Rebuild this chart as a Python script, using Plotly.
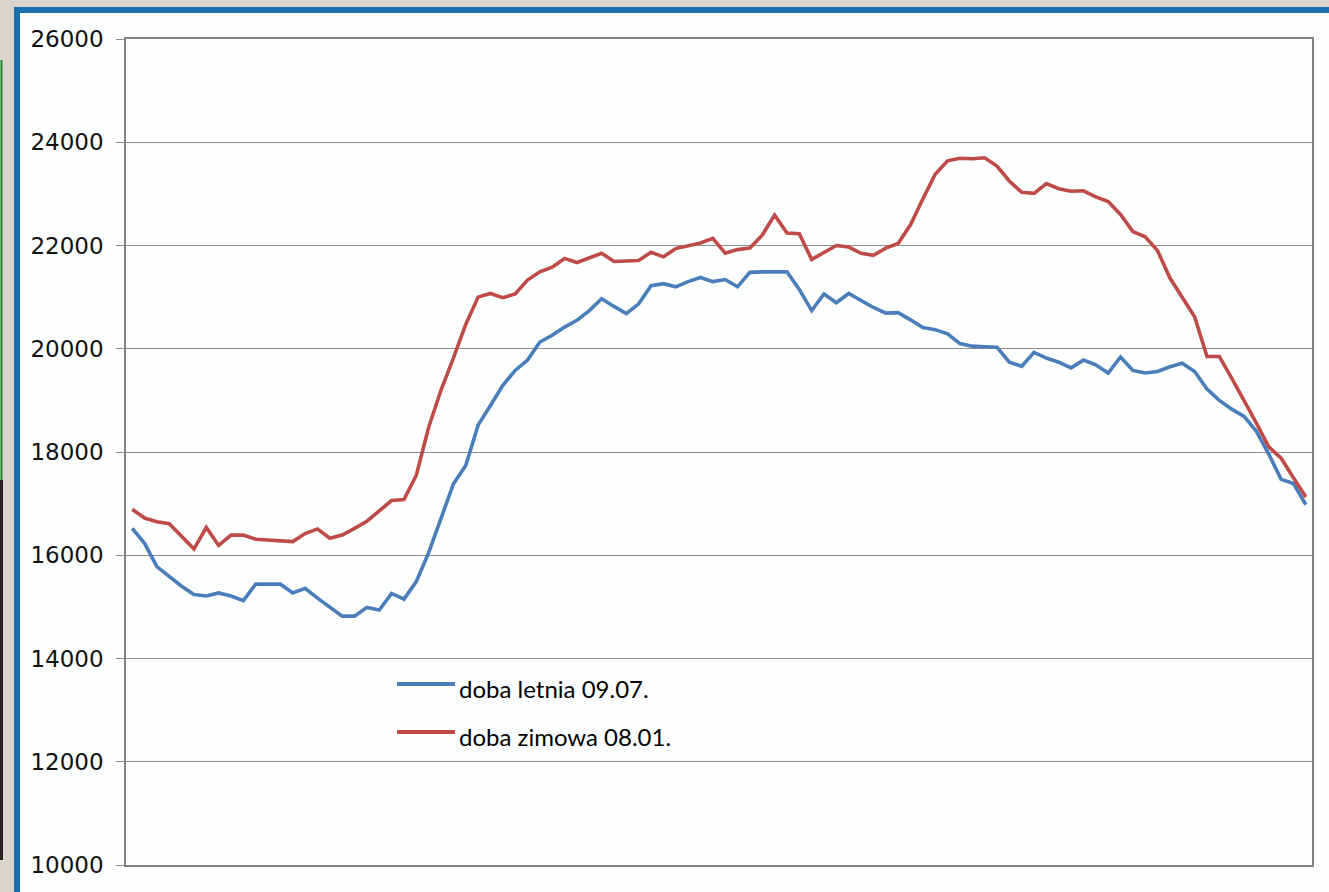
import plotly.graph_objects as go

# Quarter-hour intervals over the day (96 points)
intervals = list(range(96))

doba_letnia = [
    16520, 16230, 15780, 15590, 15400, 15240, 15210, 15270, 15210, 15120,
    15440, 15440, 15440, 15270, 15360, 15170, 14990, 14820, 14820, 14990,
    14940, 15260, 15150, 15490, 16050, 16700, 17380, 17740, 18520, 18900,
    19290, 19580, 19780, 20130, 20260, 20420, 20550, 20740, 20970, 20820,
    20680, 20870, 21220, 21260, 21200, 21300, 21380, 21300, 21340, 21200,
    21480, 21490, 21490, 21490, 21150, 20740, 21060, 20890, 21070, 20940,
    20800, 20690, 20700, 20560, 20410, 20370, 20290, 20100, 20050, 20040,
    20030, 19740, 19660, 19930, 19820, 19740, 19630, 19780, 19690, 19530,
    19840, 19580, 19530, 19560, 19650, 19720, 19560, 19220, 19000, 18830,
    18690, 18400, 17960, 17470, 17390, 16980,
]

doba_zimowa = [
    16890, 16720, 16650, 16610, 16370, 16120, 16540, 16190, 16390, 16390,
    16310, 16300, 16280, 16265, 16420, 16510, 16330, 16390, 16520, 16660,
    16860, 17060, 17080, 17550, 18480, 19200, 19820, 20470, 21000, 21070,
    20990, 21060, 21330, 21490, 21580, 21750, 21670, 21760, 21850, 21690,
    21700, 21710, 21870, 21780, 21940, 22000, 22050, 22140, 21850, 21920,
    21950, 22200, 22590, 22240, 22230, 21730, 21870, 22000, 21970, 21850,
    21810, 21950, 22040, 22400, 22900, 23380, 23640, 23690, 23680, 23700,
    23540, 23250, 23030, 23010, 23200, 23100, 23050, 23060, 22940, 22850,
    22600, 22270, 22170, 21900, 21370, 21000, 20620, 19850, 19850, 19430,
    19010, 18560, 18100, 17880, 17500, 17130,
]

y_ticks = [10000, 12000, 14000, 16000, 18000, 20000, 22000, 24000, 26000]
series_names = ["doba letnia 09.07.", "doba zimowa 08.01."]
series_colors = ["#4a7ebb", "#be4b48"]

W, H = 1329, 892
L, R, T, B = 126, 1312, 39, 865
pw, ph = R - L, B - T


def px(x):
    return (x - L) / pw


def py(y):
    return (B - y) / ph


fig = go.Figure()
for name, vals, col in zip(series_names, [doba_letnia, doba_zimowa], series_colors):
    fig.add_trace(go.Scatter(
        x=intervals, y=vals, mode="lines", name=name,
        line=dict(color=col, width=3.6), showlegend=False,
    ))

shapes = [
    # outer slide frame
    dict(type="rect", xref="paper", yref="paper", layer="below",
         x0=px(17), x1=px(1345), y0=py(10), y1=py(905),
         fillcolor="#fdfefe", line=dict(color="#1b6fae", width=6)),
    # left edge decorations
    dict(type="line", xref="paper", yref="paper", layer="below",
         x0=px(1.5), x1=px(1.5), y0=py(60), y1=py(480),
         line=dict(color="#1f8a2a", width=2)),
    dict(type="line", xref="paper", yref="paper", layer="below",
         x0=px(1.5), x1=px(1.5), y0=py(480), y1=py(860),
         line=dict(color="#222222", width=3)),
]

annotations = []
legend_rows = [(684, 688), (732, 736)]
for (ly, ty), name, col in zip(legend_rows, series_names, series_colors):
    shapes.append(dict(type="line", xref="paper", yref="paper", layer="above",
                       x0=px(397), x1=px(455), y0=py(ly), y1=py(ly),
                       line=dict(color=col, width=4)))
    annotations.append(dict(xref="paper", yref="paper", x=px(457), y=py(ty),
                            xanchor="left", yanchor="middle", showarrow=False,
                            text=name, font=dict(family="Lato, Liberation Sans, sans-serif",
                                                 size=24, color="#000000")))

fig.update_layout(
    width=W, height=H,
    margin=dict(l=L, r=W - R, t=T, b=H - B, pad=0),
    paper_bgcolor="#d9d5cd",
    plot_bgcolor="rgba(0,0,0,0)",
    shapes=shapes,
    annotations=annotations,
    xaxis=dict(range=[-0.5, 95.5], showticklabels=False, showgrid=False,
               zeroline=False, ticks="", showline=True, mirror=True,
               linecolor="#7e8287", linewidth=1.5),
    yaxis=dict(range=[10000, 26000], tickvals=y_ticks,
               ticktext=[str(v) for v in y_ticks],
               showgrid=True, gridcolor="#8e8e8e", gridwidth=1,
               zeroline=False, showline=True, mirror=True,
               linecolor="#7e8287", linewidth=1.5,
               ticks="outside", ticklen=8, tickcolor="#8e8e8e",
               ticklabelstandoff=8,
               tickfont=dict(family="DejaVu Sans", size=23, color="#111111")),
)

fig.write_html("out.html")
